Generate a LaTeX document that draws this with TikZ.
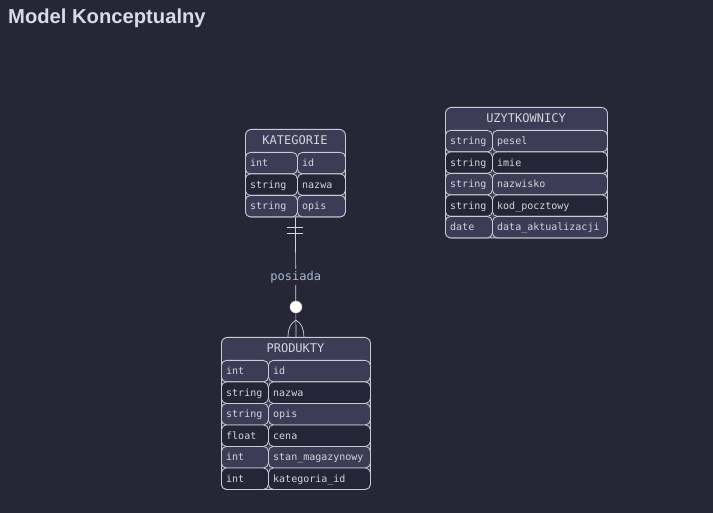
\documentclass[tikz,border=0pt]{standalone}
\usepackage{fontspec}
\setmainfont{Liberation Sans}
\newfontfamily\ermono{DejaVu Sans Mono}
\usetikzlibrary{positioning}
\definecolor{bgcol}{HTML}{272637}
\definecolor{rowlight}{HTML}{3D3C56}
\definecolor{rowdark}{HTML}{262537}
\definecolor{edgecol}{HTML}{CBCBD4}
\definecolor{txtcol}{HTML}{D4D4DC}
\definecolor{titlecol}{HTML}{D6DBE6}
\definecolor{relcol}{HTML}{A9BCD3}

\begin{document}
\begin{tikzpicture} [x=1pt, y=-1pt,
	entity/.style = {draw=edgecol, fill=rowlight, rounded corners=6pt, line width=0.9pt, anchor=north west, inner sep=0pt},
	cell/.style = {draw=edgecol, rounded corners=5pt, line width=0.8pt, anchor=north west, inner sep=0pt, minimum height=21.5pt},
	celltext/.style = {text=txtcol, font=\ermono\fontsize{10}{12}\selectfont, inner sep=0pt, text height=9.5pt, text depth=2pt},
	header/.style = {text=txtcol, font=\ermono\fontsize{12}{14}\selectfont, inner sep=0pt},
	rel/.style = {draw=edgecol!80, line width=0.7pt}]
\fill[bgcol] (0,0) rectangle (713,513);
\useasboundingbox (0,0) rectangle (713,513);
\node[anchor=base west, text=titlecol, font=\bfseries\fontsize{20.2}{24}\selectfont, inner sep=0pt] (title) at (8,24) {Model Konceptualny};
\def\hdh{23}
\def\rowh{21.5}
% id, title, x, y, type width, name width, number of rows, rows
\newcommand{\ertable}[8]{
	\pgfmathsetmacro{\tabh}{\hdh+\rowh*#7}
	\node[entity, minimum width=#5+#6, minimum height=\tabh] (#1) at (#3,#4) {};
	\node[header] (#1-head) at (#3+#5/2+#6/2, #4+11.5) {#2};
	\foreach \typ/\nam [count=\k] in {#8} {
		\pgfmathsetmacro{\ry}{#4+\hdh+\rowh*(\k-1)}
		\ifodd\k \def\rowfill{rowlight}\else \def\rowfill{rowdark}\fi
		\node[cell, fill=\rowfill, minimum width=#5] (#1-t\k) at (#3,\ry) {};
		\node[cell, fill=\rowfill, minimum width=#6] (#1-n\k) at (#3+#5,\ry) {};
		\node[celltext, right=5pt of #1-t\k.west] {\typ};
		\node[celltext, right=5pt of #1-n\k.west] {\nam};
	}
}
\ertable{kat}{KATEGORIE}{245}{129}{52}{48}{3}{int/id, string/nazwa, string/opis}
\ertable{uzy}{UZYTKOWNICY}{445}{107}{47}{115}{5}{string/pesel, string/imie, string/nazwisko, string/kod\_pocztowy, date/data\_aktualizacji}
\ertable{prod}{PRODUKTY}{221}{337}{47}{102}{6}{int/id, string/nazwa, string/opis, float/cena, int/stan\_magazynowy, int/kategoria\_id}
% relation kat ||--o{ prod
\draw[rel] (kat.south) -- (prod.north) node[midway, fill=bgcol, text=relcol, font=\ermono\fontsize{12}{14}\selectfont, inner sep=2pt] (posiada) {posiada};
\coordinate (bar1) at ([yshift=-10pt]kat.south);
\coordinate (bar2) at ([yshift=-15.5pt]kat.south);
\draw[rel] ([xshift=-8pt]bar1) -- ([xshift=8pt]bar1);
\draw[rel] ([xshift=-8pt]bar2) -- ([xshift=8pt]bar2);
\node[circle, fill=white, draw=edgecol, inner sep=0pt, minimum size=12pt] (zero) at ([yshift=30pt]prod.north) {};
\coordinate (foot) at ([yshift=-7pt]zero.south);
\draw[rel] (foot) .. controls +(-6,3) and +(0,-7) .. ([xshift=-8pt]prod.north);
\draw[rel] (foot) .. controls +(6,3) and +(0,-7) .. ([xshift=8pt]prod.north);
\end{tikzpicture}
\end{document}
